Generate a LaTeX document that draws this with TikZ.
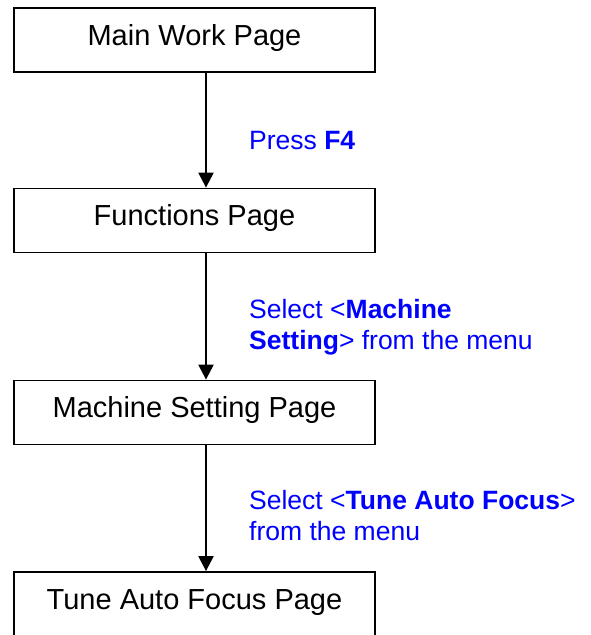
\documentclass[tikz,border=0pt]{standalone}
\usepackage{fontspec}
\setmainfont{Liberation Sans}
\usetikzlibrary{arrows.meta,positioning,calc}

\begin{document}
\begin{tikzpicture}[x=1pt,y=-1pt,
pagebox/.style={draw, line width=1.8pt, minimum width=361pt, minimum height=64pt,
  inner sep=0pt, text height=20pt, text depth=10pt, font=\fontsize{29}{33}\selectfont},
steplabel/.style={anchor=base west, align=left, inner sep=0pt, text=blue,
  font=\fontsize{26.5}{31}\selectfont},
flow/.style={line width=2.2pt, -{Triangle[width=15pt,length=15pt]}}]
\useasboundingbox (0,0) rectangle (590,635);
\node[pagebox] (main) at (194.5,40) {Main Work Page};
\node[pagebox] (func) at (194.5,220.5) {Functions Page};
\node[pagebox] (mach) at (194.5,412.5) {Machine Setting Page};
\node[pagebox] (tune) at (194.5,604) {Tune Auto Focus Page};
\coordinate (ax) at (206,0);
\draw[flow] (main.south -| ax) -- (func.north -| ax);
\draw[flow] (func.south -| ax) -- (mach.north -| ax);
\draw[flow] (mach.south -| ax) -- (tune.north -| ax);
% what to do on each page
\node[steplabel] (press) at (249,149) {Press \textbf{F4}};
\node[steplabel] (selmach) at (249,349) {Select <\textbf{Machine}\\\textbf{Setting}> from the menu};
\node[steplabel] (seltune) at (249,540) {Select <\textbf{Tune Auto Focus}>\\from the menu};
\end{tikzpicture}
\end{document}
